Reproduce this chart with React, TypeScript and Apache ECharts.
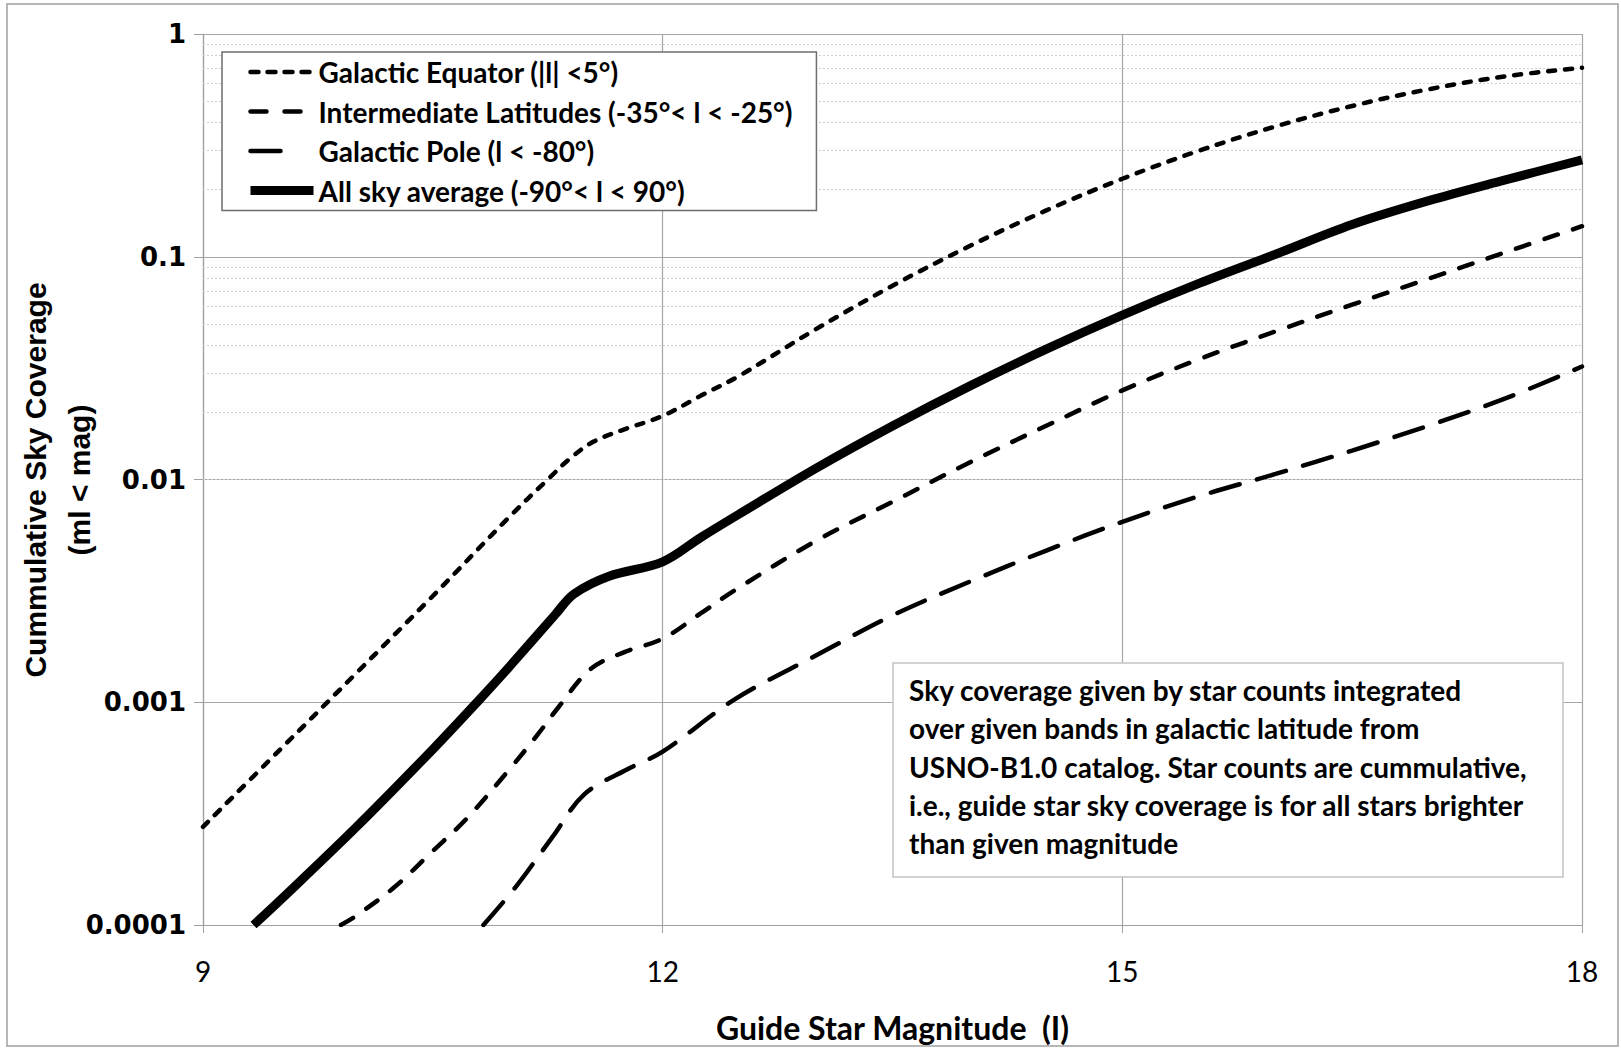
import React, { useEffect, useRef } from "react";
import * as echarts from "echarts";

// ---- Data ----
const xTicks = [9, 12, 15, 18];
const yTickLabels = ["0.0001", "0.001", "0.01", "0.1", "1"];

const seriesNames = [
  "Galactic Equator (|l| <5°)",
  "Intermediate Latitudes (-35°< l < -25°)",
  "Galactic Pole (l < -80°)",
  "All sky average (-90°< l < 90°)",
];

const equatorMag = [9.0, 9.5, 10.0, 10.5, 11.0, 11.25, 11.4, 11.55, 11.75, 12.0, 12.25, 12.5, 13.0, 13.5, 14.0, 14.5, 15.0, 15.5, 16.0, 16.5, 17.0, 17.5, 18.0];
const equatorCov = [2.76e-4, 6.1e-4, 1.35e-3, 3.0e-3, 6.8e-3, 0.01, 0.0125, 0.0148, 0.0168, 0.0193, 0.0238, 0.0292, 0.0473, 0.0741, 0.1114, 0.161, 0.2239, 0.2992, 0.3846, 0.4753, 0.5649, 0.6457, 0.705];

const intermMag = [9.9, 10.0, 10.25, 10.5, 10.72, 11.0, 11.18, 11.32, 11.53, 11.75, 12.0, 12.25, 12.47, 13.0, 13.5, 14.0, 14.5, 15.0, 15.5, 16.0, 16.5, 17.0, 17.5, 18.0];
const intermCov = [1.0e-4, 1.1e-4, 1.48e-4, 2.15e-4, 3.0e-4, 5.0e-4, 7.1e-4, 9.5e-4, 1.41e-3, 1.68e-3, 1.93e-3, 2.51e-3, 3.18e-3, 5.3e-3, 7.94e-3, 0.01189, 0.01738, 0.02512, 0.03467, 0.04624, 0.06095, 0.0798, 0.1047, 0.1371];

const poleMag = [10.83, 11.04, 11.28, 11.49, 11.77, 12.0, 12.47, 13.0, 13.5, 14.0, 14.5, 15.0, 15.5, 16.0, 16.5, 17.0, 17.5, 18.0];
const poleCov = [1.0e-4, 1.48e-4, 2.48e-4, 3.87e-4, 5.0e-4, 6.0e-4, 1.03e-3, 1.62e-3, 2.455e-3, 3.467e-3, 4.786e-3, 6.457e-3, 8.414e-3, 0.01059, 0.01349, 0.01746, 0.02312, 0.03214];

const allSkyMag = [9.33, 9.5, 10.0, 10.5, 10.8, 11.0, 11.3, 11.42, 11.65, 12.0, 12.25, 12.5, 13.0, 13.5, 14.0, 14.5, 15.0, 15.5, 16.0, 16.5, 17.0, 17.5, 18.0];
const allSkyCov = [1.0e-4, 1.285e-4, 2.75e-4, 6.15e-4, 1.02e-3, 1.445e-3, 2.48e-3, 3.06e-3, 3.68e-3, 4.27e-3, 5.5e-3, 7.0e-3, 0.01122, 0.01738, 0.02618, 0.03837, 0.0547, 0.0759, 0.1026, 0.1396, 0.1786, 0.2213, 0.2723];

const noteLines = [
  "Sky coverage given by star counts integrated",
  "over given bands in galactic latitude from",
  "USNO-B1.0 catalog. Star counts are cummulative,",
  "i.e., guide star sky coverage is for all stars brighter",
  "than given magnitude",
];

const xTitle = "Guide Star Magnitude  (I)";
const yTitleLines = ["Cummulative Sky Coverage", "(ml < mag)"];

// minor (dotted) grid values: 2..9 within each decade
const minorGridValues: number[] = [];
for (let e = -4; e < 0; e++) {
  for (let m = 2; m <= 9; m++) minorGridValues.push(m * Math.pow(10, e));
}

const pair = (xs: number[], ys: number[]) => xs.map((x, i) => [x, ys[i]]);

const styles = [
  { color: "#000", width: 4.5, type: [7, 10], cap: "round" },
  { color: "#000", width: 4.5, type: [14, 16], cap: "round" },
  { color: "#000", width: 4.5, type: [30, 18], cap: "round" },
  { color: "#000", width: 9, type: "solid", cap: "butt" },
];
const legendStyles = [
  { color: "#000", width: 4.5, type: [8, 9], cap: "round" },
  { color: "#000", width: 4.5, type: [16, 18], cap: "round" },
  { color: "#000", width: 4.5, type: [30, 40], cap: "round" },
  { color: "#000", width: 9, type: "solid", cap: "butt" },
];

export default function App() {
  const ref = useRef<HTMLDivElement>(null);

  useEffect(() => {
    if (!ref.current) return;
    const chart = echarts.init(ref.current, undefined, { renderer: "svg" });

    const lineBase = { type: "line", showSymbol: false, symbol: "none", smooth: 0.35, silent: true, z: 3 };
    const datasets = [
      pair(equatorMag, equatorCov),
      pair(intermMag, intermCov),
      pair(poleMag, poleCov),
      pair(allSkyMag, allSkyCov),
    ];

    const option: any = {
      animation: false,
      backgroundColor: "#ffffff",
      grid: { left: 203, right: 39, top: 34, bottom: 124, containLabel: false, outerBoundsMode: "none" },
      legend: {
        orient: "vertical",
        left: 222,
        top: 52,
        padding: [5, 24, 5, 24],
        itemWidth: 63,
        itemHeight: 14,
        itemGap: 9.5,
        borderColor: "#6e6e6e",
        borderWidth: 1.5,
        backgroundColor: "#ffffff",
        selectedMode: false,
        itemStyle: { opacity: 0 },
        textStyle: { fontFamily: "Lato", fontWeight: "bold", fontSize: 28, lineHeight: 30, color: "#000" },
        data: seriesNames.map((name, i) => ({ name, lineStyle: legendStyles[i] })),
        z: 20,
      },
      xAxis: {
        type: "value",
        min: xTicks[0],
        max: xTicks[xTicks.length - 1],
        interval: 3,
        name: xTitle,
        nameLocation: "middle",
        nameGap: 86,
        nameTextStyle: { fontFamily: "Lato", fontWeight: "bold", fontSize: 32, color: "#000" },
        axisLine: { show: true, lineStyle: { color: "#a0a0a0", width: 1.2 } },
        axisTick: { show: true, length: 8, inside: false, lineStyle: { color: "#a0a0a0" } },
        axisLabel: { fontFamily: "Lato", fontSize: 28, color: "#000", margin: 32, formatter: (v: number) => String(v) },
        splitLine: { show: true, lineStyle: { color: "#a6a6a6", width: 1.2 } },
      },
      yAxis: {
        type: "log",
        logBase: 10,
        min: 0.0001,
        max: 1,
        splitNumber: 4,
        axisLine: { show: true, lineStyle: { color: "#a0a0a0", width: 1.2 } },
        axisTick: { show: true, length: 9, inside: false, lineStyle: { color: "#a0a0a0" } },
        axisLabel: {
          fontFamily: "DejaVu Sans",
          fontWeight: "bold",
          fontSize: 26,
          color: "#000",
          margin: 17,
          formatter: (v: number) => yTickLabels[Math.round(Math.log10(v)) + 4] ?? String(v),
        },
        splitLine: { show: true, lineStyle: { color: "#a6a6a6", width: 1.2 } },
        minorTick: { show: false },
      },
      series: [
        {
          type: "line",
          name: "minor-grid",
          data: [],
          silent: true,
          z: 1,
          markLine: {
            silent: true,
            symbol: ["none", "none"],
            label: { show: false },
            lineStyle: { color: "#cfcfcf", type: [2, 2], width: 1 },
            emphasis: { disabled: true },
            data: minorGridValues.map((v) => ({ yAxis: v })),
            z: 1,
          },
        },
        ...seriesNames.map((name, i) => ({
          ...lineBase,
          name,
          data: datasets[i],
          lineStyle: styles[i],
        })),
      ],
      graphic: [
        {
          type: "rect",
          silent: true,
          z: -10,
          shape: { x: 7, y: 4, width: 1611, height: 1042 },
          style: { fill: "none", stroke: "#a0a0a0", lineWidth: 1.5 },
        },
        {
          type: "text",
          x: 57,
          y: 480,
          rotation: Math.PI / 2,
          silent: true,
          z: 10,
          style: {
            text: yTitleLines.join("\n"),
            fontFamily: "Liberation Sans",
            fontWeight: "bold",
            fontSize: 30,
            lineHeight: 44,
            fill: "#000",
            align: "center",
            verticalAlign: "middle",
          },
        },
        {
          type: "group",
          z: 50,
          children: [
            {
              type: "rect",
              shape: { x: 893, y: 663, width: 670, height: 214 },
              style: { fill: "#ffffff", stroke: "#c4c4c4", lineWidth: 1.5 },
              z: 50,
            },
            {
              type: "text",
              x: 909,
              y: 671,
              z: 51,
              style: {
                text: noteLines.join("\n"),
                fontFamily: "Lato",
                fontWeight: "bold",
                fontSize: 28,
                lineHeight: 38.3,
                fill: "#000",
                verticalAlign: "top",
                align: "left",
              },
            },
          ],
        },
      ],
    };

    chart.setOption(option);
    return () => chart.dispose();
  }, []);

  return (
    <div
      ref={ref}
      style={{ position: "fixed", left: 0, top: 0, width: 1621, height: 1049, background: "#fff" }}
    />
  );
}
